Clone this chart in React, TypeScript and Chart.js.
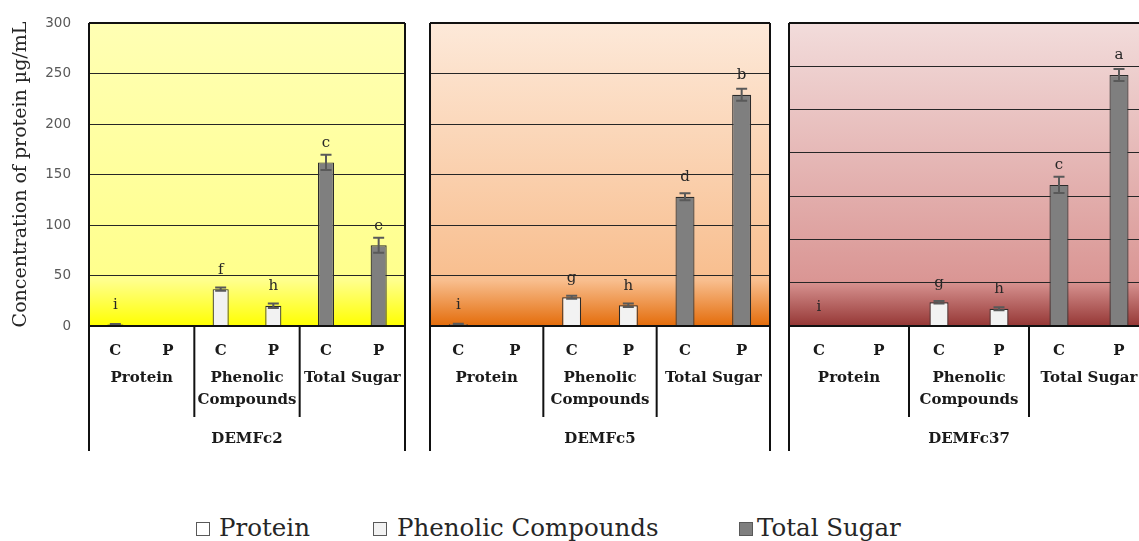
import React, { useEffect, useRef } from 'react';
import { Chart, registerables } from 'chart.js';

Chart.register(...registerables);

// Categories on the x axis: control (C) and treated (P) for each assay
const categories = ['C', 'P', 'C', 'P', 'C', 'P'];
const assayGroups = [['Protein'], ['Phenolic', 'Compounds'], ['Total Sugar']];
const seriesNames = ['Protein', 'Phenolic Compounds', 'Total Sugar'];
const seriesColors = ['#FFFFFF', '#F2F2F2', '#7F7F7F'];
const yAxisTitle = 'Concentration of protein µg/mL';

// DEMFc2
const demfc2Values = [1.5, null, 36.5, 20, 162, 80];
const demfc2Errors = [0.4, null, 1.5, 2.2, 7.5, 7.5];
const demfc2Letters = ['i', '', 'f', 'h', 'c', 'e'];

// DEMFc5
const demfc5Values = [1.8, null, 28.5, 20.5, 128, 229];
const demfc5Errors = [0.4, null, 1.5, 1.8, 3.5, 6];
const demfc5Letters = ['i', '', 'g', 'h', 'd', 'b'];

// DEMFc37
const demfc37Values = [0, null, 27.5, 20, 163, 290];
const demfc37Errors = [0, null, 1.5, 1.7, 9.5, 7];
const demfc37Letters = ['i', '', 'g', 'h', 'c', 'a'];

type Stop = [number, string];

type PanelSpec = {
  name: string;
  values: (number | null)[];
  errors: (number | null)[];
  letters: string[];
  yMax: number;
  left: number;
  width: number;
  padLeft: number;
  padRight: number;
  axisWidth: number;
  showAxis: boolean;
  barPct: number;
  stops: Stop[];
};

const CANVAS_H = 460;
const PLOT_TOP = 23;
const PLOT_BOTTOM = 326;
const SERIF = '"DejaVu Serif", serif';

const panels: PanelSpec[] = [
  {
    name: 'DEMFc2',
    values: demfc2Values,
    errors: demfc2Errors,
    letters: demfc2Letters,
    yMax: 300,
    left: 0,
    width: 420,
    padLeft: 0,
    padRight: 15,
    axisWidth: 89,
    showAxis: true,
    barPct: 0.305,
    stops: [
      [0, '#FFFFB4'],
      [0.85, '#FFFF8C'],
      [1, '#FFFF00'],
    ],
  },
  {
    name: 'DEMFc5',
    values: demfc5Values,
    errors: demfc5Errors,
    letters: demfc5Letters,
    yMax: 300,
    left: 420,
    width: 360,
    padLeft: 10,
    padRight: 10,
    axisWidth: 0,
    showAxis: false,
    barPct: 0.335,
    stops: [
      [0, '#FDE9D9'],
      [0.85, '#F8BE8E'],
      [1, '#E46C0A'],
    ],
  },
  {
    name: 'DEMFc37',
    values: demfc37Values,
    errors: demfc37Errors,
    letters: demfc37Letters,
    yMax: 350,
    left: 780,
    width: 380,
    padLeft: 9,
    padRight: 11,
    axisWidth: 0,
    showAxis: false,
    barPct: 0.317,
    stops: [
      [0, '#F2DCDB'],
      [0.85, '#DA9694'],
      [1, '#953735'],
    ],
  },
];

function buildConfig(spec: PanelSpec): any {
  const datasets = seriesNames.map((label, s) => ({
    label,
    data: spec.values.map((v, i) => (Math.floor(i / 2) === s ? v : null)),
    backgroundColor: seriesColors[s],
    borderColor: '#2b2b2b',
    borderWidth: 1.2,
    grouped: false,
    barPercentage: spec.barPct,
    categoryPercentage: 1,
  }));

  const decor = {
    id: 'panelDecor',
    beforeDraw(chart: any) {
      const { ctx, chartArea: a } = chart;
      const g = ctx.createLinearGradient(0, a.top, 0, a.bottom);
      spec.stops.forEach(([o, c]) => g.addColorStop(o, c));
      ctx.save();
      ctx.fillStyle = g;
      ctx.fillRect(a.left, a.top, a.right - a.left, a.bottom - a.top);
      ctx.restore();
    },
    afterDatasetsDraw(chart: any) {
      const { ctx } = chart;
      const y = chart.scales.y;
      ctx.save();
      spec.values.forEach((v, i) => {
        if (v === null) return;
        const el = chart.getDatasetMeta(Math.floor(i / 2)).data[i];
        if (!el) return;
        const x = el.x;
        const err = spec.errors[i] ?? 0;
        if (err > 0) {
          const yTop = y.getPixelForValue(v + err);
          const yBot = y.getPixelForValue(Math.max(0, v - err));
          ctx.strokeStyle = '#595959';
          ctx.lineWidth = 2;
          ctx.beginPath();
          ctx.moveTo(x, yTop);
          ctx.lineTo(x, yBot);
          ctx.moveTo(x - 5.5, yTop);
          ctx.lineTo(x + 5.5, yTop);
          ctx.moveTo(x - 5.5, yBot);
          ctx.lineTo(x + 5.5, yBot);
          ctx.stroke();
        }
        const letter = spec.letters[i];
        if (letter) {
          ctx.fillStyle = '#262626';
          ctx.font = `15px ${SERIF}`;
          ctx.textAlign = 'center';
          ctx.textBaseline = 'alphabetic';
          ctx.fillText(letter, x, y.getPixelForValue(v) - 15.5);
        }
      });
      ctx.restore();
    },
    afterDraw(chart: any) {
      const { ctx, chartArea: a } = chart;
      const xs = chart.scales.x;
      const w = a.right - a.left;
      ctx.save();
      ctx.strokeStyle = '#111111';
      ctx.lineWidth = 2;
      ctx.beginPath();
      // frame: top edge, side edges running down through the axis labels
      ctx.moveTo(a.left, a.top);
      ctx.lineTo(a.right, a.top);
      ctx.moveTo(a.left, a.top);
      ctx.lineTo(a.left, a.bottom + 125);
      ctx.moveTo(a.right, a.top);
      ctx.lineTo(a.right, a.bottom + 125);
      // x axis line
      ctx.moveTo(a.left, a.bottom);
      ctx.lineTo(a.right, a.bottom);
      // dividers between assay groups
      for (let k = 1; k < assayGroups.length; k++) {
        const gx = a.left + (w * k) / assayGroups.length;
        ctx.moveTo(gx, a.bottom);
        ctx.lineTo(gx, a.bottom + 91);
      }
      ctx.stroke();

      ctx.fillStyle = '#1a1a1a';
      ctx.textAlign = 'center';
      ctx.textBaseline = 'alphabetic';
      ctx.font = `bold 15px ${SERIF}`;
      categories.forEach((c, i) => {
        ctx.fillText(c, xs.getPixelForValue(i), a.bottom + 29);
      });
      assayGroups.forEach((lines, k) => {
        const cx = a.left + (w * (k + 0.5)) / assayGroups.length;
        lines.forEach((t, j) => {
          ctx.fillText(t, cx, a.bottom + 56 + j * 21.5);
        });
      });
      ctx.fillText(spec.name, (a.left + a.right) / 2, a.bottom + 117);
      ctx.restore();
    },
  };

  return {
    type: 'bar',
    data: { labels: categories, datasets },
    options: {
      responsive: false,
      animation: false,
      layout: { padding: { left: spec.padLeft, right: spec.padRight, top: PLOT_TOP, bottom: 0 } },
      plugins: { legend: { display: false }, tooltip: { enabled: false } },
      scales: {
        x: {
          grid: { display: false, drawTicks: false },
          border: { display: false },
          ticks: { display: false },
          afterFit(scale: any) {
            scale.height = CANVAS_H - PLOT_BOTTOM;
          },
        },
        y: {
          min: 0,
          max: spec.yMax,
          ticks: {
            display: spec.showAxis,
            stepSize: 50,
            padding: 0,
            color: '#595959',
            font: { family: '"DejaVu Sans", sans-serif', size: 13.5 },
          },
          // invisible tick marks keep the labels 18px left of the plot
          grid: {
            color: '#262626',
            lineWidth: 1,
            drawTicks: true,
            tickLength: 18,
            tickColor: 'rgba(0,0,0,0)',
          },
          border: { display: false },
          title: {
            display: spec.showAxis,
            text: yAxisTitle,
            color: '#262626',
            font: { family: SERIF, size: 19 },
            padding: { top: 10, bottom: 0 },
          },
          afterFit(scale: any) {
            scale.width = spec.axisWidth;
          },
        },
      },
    },
    plugins: [decor],
  };
}

function Panel({ spec }: { spec: PanelSpec }) {
  const ref = useRef<HTMLCanvasElement | null>(null);
  useEffect(() => {
    if (!ref.current) return;
    const chart = new Chart(ref.current, buildConfig(spec));
    return () => chart.destroy();
  }, [spec]);
  return (
    <canvas
      ref={ref}
      width={spec.width}
      height={CANVAS_H}
      style={{ position: 'absolute', left: spec.left, top: 0, width: spec.width, height: CANVAS_H }}
    />
  );
}

const legendItems = [
  { name: seriesNames[0], color: seriesColors[0], boxLeft: 196, textLeft: 219 },
  { name: seriesNames[1], color: seriesColors[1], boxLeft: 373, textLeft: 397 },
  { name: seriesNames[2], color: seriesColors[2], boxLeft: 739, textLeft: 757 },
];

export default function App() {
  return (
    <div
      style={{
        position: 'fixed',
        left: 0,
        top: 0,
        width: 1139,
        height: 541,
        overflow: 'hidden',
        background: '#ffffff',
      }}
    >
      {panels.map((p) => (
        <Panel key={p.name} spec={p} />
      ))}
      {legendItems.map((it) => (
        <React.Fragment key={it.name}>
          <div
            style={{
              position: 'absolute',
              left: it.boxLeft,
              top: 522,
              width: 12,
              height: 12,
              background: it.color,
              border: '1px solid #595959',
            }}
          />
          <div
            style={{
              position: 'absolute',
              left: it.textLeft,
              top: 516,
              fontFamily: SERIF,
              fontSize: 24.5,
              lineHeight: '24.5px',
              color: '#262626',
              whiteSpace: 'nowrap',
            }}
          >
            {it.name}
          </div>
        </React.Fragment>
      ))}
    </div>
  );
}
